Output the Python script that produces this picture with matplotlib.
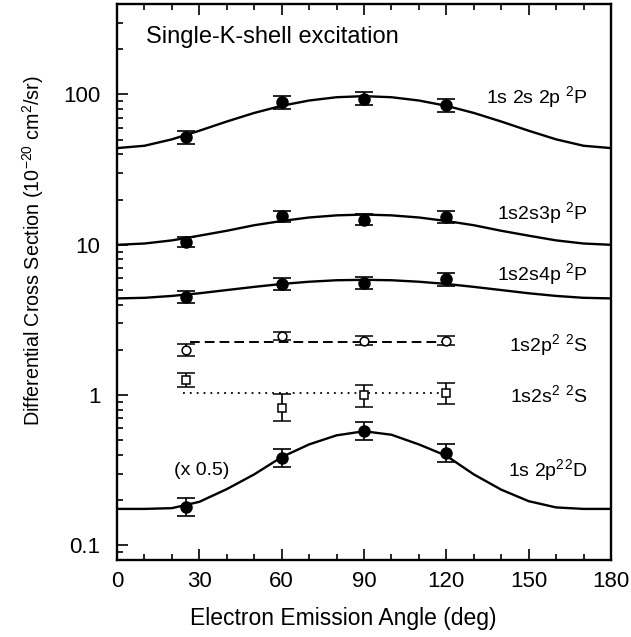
import matplotlib
matplotlib.use("Agg")
import matplotlib.pyplot as plt
from matplotlib.ticker import FixedLocator, NullFormatter, LogLocator

plt.rcParams['font.family'] = ['Liberation Sans', 'DejaVu Sans']
plt.rcParams['mathtext.default'] = 'regular'

# ---- data ----
angles_exp = [25, 60, 90, 120]
theta_curve = [0, 10, 20, 30, 40, 50, 60, 70, 80, 90, 100, 110, 120, 130, 140, 150, 160, 170, 180]

# 1s2s2p 2P
p2p_val = [51.8, 88.5, 94.0, 84.5]
p2p_lo = [47.0, 80.5, 85.5, 77.0]
p2p_hi = [57.0, 97.0, 103.5, 93.0]
p2p_curve = [44.0, 45.6, 50.3, 57.4, 66.1, 75.4, 84.1, 91.2, 95.9, 97.5,
             95.9, 91.2, 84.1, 75.4, 66.1, 57.4, 50.3, 45.6, 44.0]

# 1s2s3p 2P
p3p_val = [10.4, 15.5, 14.7, 15.3]
p3p_lo = [9.6, 14.2, 13.5, 14.0]
p3p_hi = [11.3, 16.9, 16.0, 16.7]
p3p_curve = [10.0, 10.2, 10.7, 11.5, 12.4, 13.5, 14.4, 15.2, 15.7, 15.9,
             15.7, 15.2, 14.4, 13.5, 12.4, 11.5, 10.7, 10.2, 10.0]

# 1s2s4p 2P
p4p_val = [4.51, 5.49, 5.57, 5.88]
p4p_lo = [4.10, 5.00, 5.07, 5.35]
p4p_hi = [4.95, 6.03, 6.12, 6.45]
p4p_curve = [4.40, 4.44, 4.57, 4.76, 5.00, 5.25, 5.49, 5.68, 5.81, 5.85,
             5.81, 5.68, 5.49, 5.25, 5.00, 4.76, 4.57, 4.44, 4.40]

# 1s2p^2 2S
s2p_val = [1.99, 2.47, 2.30, 2.30]
s2p_lo = [1.83, 2.33, 2.15, 2.15]
s2p_hi = [2.19, 2.63, 2.47, 2.47]
s2p_line_x = [26.5, 120]
s2p_line_y = [2.26, 2.26]

# 1s2s^2 2S
s2s_val = [1.27, 0.82, 1.00, 1.03]
s2s_lo = [1.13, 0.67, 0.84, 0.87]
s2s_hi = [1.40, 1.02, 1.17, 1.20]
s2s_line_x = [24, 120]
s2s_line_y = [1.03, 1.03]

# 1s2p^2 2D (x 0.5)
d_val = [0.180, 0.380, 0.575, 0.410]
d_lo = [0.156, 0.330, 0.500, 0.357]
d_hi = [0.208, 0.440, 0.665, 0.475]
d_curve = [0.175, 0.175, 0.177, 0.195, 0.237, 0.297, 0.387, 0.470, 0.540, 0.575,
           0.545, 0.470, 0.395, 0.297, 0.235, 0.197, 0.179, 0.175, 0.175]

xticks = [0, 30, 60, 90, 120, 150, 180]
yticks = [0.1, 1, 10, 100]
ytick_labels = ['0.1', '1', '10', '100']

# ---- figure ----
W, H = 631, 637
fig = plt.figure(figsize=(W/100, H/100), dpi=100)
L, R, T, B = 117, 611, 4, 560
ax = fig.add_axes([L/W, 1-B/H, (R-L)/W, (B-T)/H])
ax.set_yscale('log')
ax.set_xlim(0, 180)
ax.set_ylim(0.08, 400)

lw = 1.7
def err(vals, lo, hi):
    return [[v - l for v, l in zip(vals, lo)], [h - v for v, h in zip(vals, hi)]]

for curve in [p2p_curve, p3p_curve, p4p_curve, d_curve]:
    ax.plot(theta_curve, curve, color='black', lw=lw, zorder=2)

ax.plot(s2p_line_x, s2p_line_y, color='black', lw=1.4, ls=(0, (5, 2.6)), zorder=2)
ax.plot(s2s_line_x, s2s_line_y, color='black', lw=1.3, ls=(0, (1, 2.8)), zorder=2)

filled = dict(fmt='o', color='black', ms=8, capsize=6.5, elinewidth=1.2, capthick=1.2, zorder=3)
for v, lo, hi in [(p2p_val, p2p_lo, p2p_hi), (p3p_val, p3p_lo, p3p_hi),
                  (p4p_val, p4p_lo, p4p_hi), (d_val, d_lo, d_hi)]:
    ax.errorbar(angles_exp, v, yerr=err(v, lo, hi), **filled)

ax.errorbar(angles_exp, s2p_val, yerr=err(s2p_val, s2p_lo, s2p_hi), fmt='o', mfc='white',
            mec='black', mew=1.1, color='black', ms=6.3, capsize=6.5, elinewidth=1.2, capthick=1.2, zorder=3)
ax.errorbar(angles_exp, s2s_val, yerr=err(s2s_val, s2s_lo, s2s_hi), fmt='s', mfc='white',
            mec='black', mew=1.1, color='black', ms=6, capsize=6.5, elinewidth=1.2, capthick=1.2, zorder=3)

# ticks
ax.xaxis.set_major_locator(FixedLocator(xticks))
ax.xaxis.set_minor_locator(FixedLocator(list(range(0, 181, 10))))
ax.yaxis.set_major_locator(FixedLocator(yticks))
ax.set_yticklabels(ytick_labels)
ax.yaxis.set_minor_locator(LogLocator(base=10, subs=range(2, 10)))
ax.yaxis.set_minor_formatter(NullFormatter())
ax.tick_params(which='both', direction='in', top=True, right=False, labelsize=16, width=1.2)
ax.tick_params(which='major', length=8)
ax.tick_params(axis='y', which='major', pad=12)
ax.tick_params(axis='x', which='major', pad=8)
ax.tick_params(which='minor', length=4)
for s in ax.spines.values():
    s.set_linewidth(1.7)

fig.text(343/W, 1-619/H, 'Electron Emission Angle (deg)', fontsize=16.5, ha='center', va='center')
fig.text(33/W, 1-251/H, 'Differential Cross Section (10$^{-20}$ cm$^{2}$/sr)', fontsize=14.2,
         ha='center', va='center', rotation=90)

fs = 14
ax.text((146-L)/(R-L), (B-37)/(B-T), 'Single-K-shell excitation', transform=ax.transAxes,
        fontsize=17, ha='left', va='center')
xr = 171.5
ax.text(xr, 96, '1s 2s 2p $^2$P', fontsize=fs, ha='right', va='center')
ax.text(xr, 16.2, '1s2s3p $^2$P', fontsize=fs, ha='right', va='center')
ax.text(xr, 6.4, '1s2s4p $^2$P', fontsize=fs, ha='right', va='center')
ax.text(xr, 2.15, '1s2p$^2$ $^2$S', fontsize=fs, ha='right', va='center')
ax.text(xr, 1.0, '1s2s$^2$ $^2$S', fontsize=fs, ha='right', va='center')
ax.text(xr, 0.317, '1s 2p$^2$$^2$D', fontsize=fs, ha='right', va='center')
ax.text(31, 0.317, '(x 0.5)', fontsize=fs, ha='center', va='center')

fig.savefig('out.png', dpi=100)
